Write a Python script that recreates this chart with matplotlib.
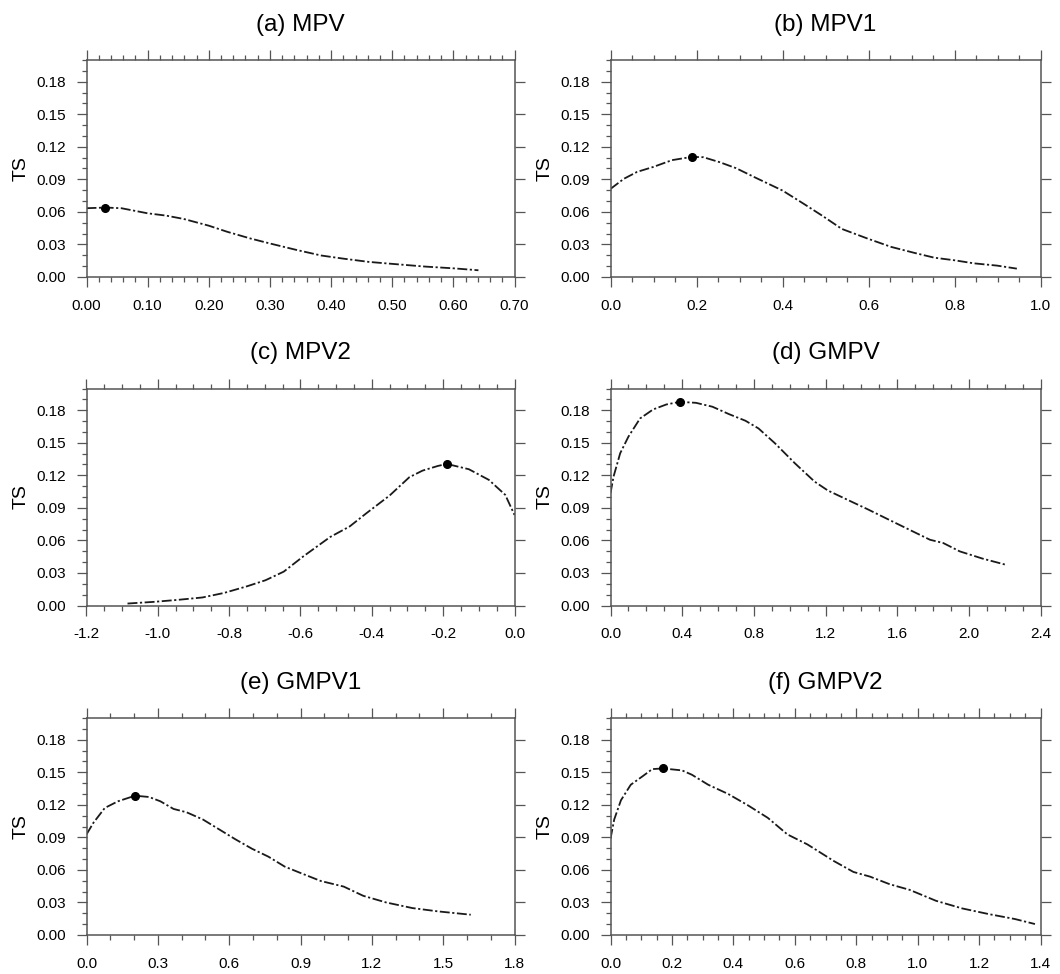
import matplotlib
matplotlib.use("Agg")
import matplotlib.pyplot as plt
from matplotlib.ticker import FixedLocator, MultipleLocator, FormatStrFormatter

plt.rcParams['font.family'] = ['Liberation Sans', 'DejaVu Sans']

titles = ['(a) MPV', '(b) MPV1', '(c) MPV2', '(d) GMPV', '(e) GMPV1', '(f) GMPV2']

mpv_x = [0.0, 0.031, 0.057, 0.1, 0.13, 0.159, 0.2, 0.23, 0.268, 0.3, 0.343, 0.384,
         0.419, 0.462, 0.5, 0.554, 0.6, 0.641]
mpv_ts = [0.0634, 0.064, 0.0634, 0.0587, 0.0566, 0.0535, 0.0473, 0.0417, 0.0355, 0.0309,
          0.025, 0.0198, 0.017, 0.0139, 0.0121, 0.0096, 0.008, 0.0062]

mpv1_x = [0.0, 0.031, 0.062, 0.1, 0.143, 0.189, 0.216, 0.254, 0.292, 0.338, 0.4, 0.446,
          0.492, 0.538, 0.6, 0.653, 0.707, 0.753, 0.8, 0.845, 0.899, 0.945]
mpv1_ts = [0.0812, 0.0905, 0.0969, 0.1015, 0.1077, 0.1107, 0.1104, 0.1058, 0.1003, 0.0914,
           0.0797, 0.0683, 0.0566, 0.0443, 0.0351, 0.0277, 0.0222, 0.0178, 0.0154, 0.0126,
           0.0105, 0.0077]

mpv2_x = [-1.085, -1.009, -0.944, -0.875, -0.814, -0.749, -0.698, -0.647, -0.592, -0.517,
          -0.462, -0.415, -0.35, -0.295, -0.258, -0.215, -0.19, -0.128, -0.072, -0.026, 0.0]
mpv2_ts = [0.0018, 0.0034, 0.0052, 0.0074, 0.0116, 0.0178, 0.0233, 0.0312, 0.0453, 0.0631,
           0.0729, 0.0851, 0.1014, 0.1182, 0.1243, 0.1286, 0.1305, 0.1256, 0.1158, 0.102, 0.0835]

gmpv_x = [0.0, 0.017, 0.054, 0.1, 0.165, 0.238, 0.312, 0.387, 0.477, 0.569, 0.661, 0.753,
          0.826, 0.918, 1.029, 1.139, 1.213, 1.323, 1.434, 1.562, 1.691, 1.783, 1.857,
          1.949, 2.077, 2.21]
gmpv_ts = [0.1035, 0.1188, 0.1403, 0.1556, 0.1724, 0.1807, 0.1853, 0.1877, 0.1868, 0.1832,
           0.1764, 0.1703, 0.1632, 0.1495, 0.1311, 0.1142, 0.106, 0.0974, 0.0888, 0.0784,
           0.068, 0.0606, 0.0576, 0.0499, 0.0432, 0.0374]

gmpv1_x = [0.0, 0.029, 0.077, 0.132, 0.204, 0.263, 0.311, 0.366, 0.421, 0.49, 0.559, 0.627,
           0.696, 0.765, 0.834, 0.903, 0.985, 1.082, 1.164, 1.26, 1.371, 1.481, 1.616]
gmpv1_ts = [0.0927, 0.1034, 0.1171, 0.1232, 0.1284, 0.1272, 0.1232, 0.1162, 0.1131, 0.1064,
            0.0972, 0.0881, 0.0795, 0.0722, 0.063, 0.0569, 0.0498, 0.0446, 0.0361, 0.03,
            0.0248, 0.0217, 0.0187]

gmpv2_x = [0.0, 0.012, 0.034, 0.066, 0.104, 0.136, 0.171, 0.233, 0.265, 0.318, 0.383, 0.447,
           0.512, 0.576, 0.641, 0.727, 0.791, 0.845, 0.909, 0.974, 1.06, 1.145, 1.231,
           1.317, 1.382]
gmpv2_ts = [0.0887, 0.1064, 0.1242, 0.1385, 0.1462, 0.1529, 0.1535, 0.1517, 0.1477, 0.1385,
            0.13, 0.1196, 0.108, 0.0927, 0.0835, 0.0682, 0.0581, 0.0538, 0.0468, 0.0416,
            0.0315, 0.0245, 0.0193, 0.0147, 0.0101]

peak_x = [0.031, 0.189, -0.19, 0.387, 0.204, 0.171]
peak_ts = [0.064, 0.1107, 0.1305, 0.1877, 0.1284, 0.1535]

series_x = [mpv_x, mpv1_x, mpv2_x, gmpv_x, gmpv1_x, gmpv2_x]
series_ts = [mpv_ts, mpv1_ts, mpv2_ts, gmpv_ts, gmpv1_ts, gmpv2_ts]

x_limits = [(0.0, 0.7), (0.0, 1.0), (-1.2, 0.0), (0.0, 2.4), (0.0, 1.8), (0.0, 1.4)]
x_major = [0.1, 0.2, 0.2, 0.4, 0.3, 0.2]
x_minor = [0.02, 0.05, 0.05, 0.1, 0.1, 0.05]
x_fmt = ['%.2f', '%.1f', '%.1f', '%.1f', '%.1f', '%.1f']
y_ticks = [0.0, 0.03, 0.06, 0.09, 0.12, 0.15, 0.18]
y_label = 'TS'

W, H = 1060, 974
fig = plt.figure(figsize=(W / 100, H / 100), dpi=100)

col_left = [86.5, 610.5]
col_width = [428, 430]
row_top = [60, 388.5, 718]
ax_h = 217

spine_col = '#555555'
for i in range(6):
    r, c = divmod(i, 2)
    rect = [col_left[c] / W, 1 - (row_top[r] + ax_h) / H, col_width[c] / W, ax_h / H]
    ax = fig.add_axes(rect)
    ax.plot(series_x[i], series_ts[i], color='#1a1a1a', lw=1.3,
            linestyle=(0, (5.5, 1.4, 1.2, 1.4)))
    ax.plot([peak_x[i]], [peak_ts[i]], 'o', color='black', markersize=5.5)
    ax.set_xlim(*x_limits[i])
    ax.set_ylim(0, 0.2)
    ax.xaxis.set_major_locator(MultipleLocator(x_major[i]))
    ax.xaxis.set_minor_locator(MultipleLocator(x_minor[i]))
    ax.xaxis.set_major_formatter(FormatStrFormatter(x_fmt[i]))
    ax.yaxis.set_major_locator(FixedLocator(y_ticks))
    ax.yaxis.set_minor_locator(MultipleLocator(0.01))
    ax.yaxis.set_major_formatter(FormatStrFormatter('%.2f'))
    for s in ax.spines.values():
        s.set_color(spine_col)
        s.set_linewidth(1.1)
    ax.tick_params(which='both', direction='out', top=True, right=True,
                   color=spine_col, width=0.9, labelsize=11, labelcolor='black')
    ax.tick_params(which='major', length=7.5)
    ax.tick_params(which='minor', length=3.8, right=False)
    ax.tick_params(axis='x', which='major', pad=8)
    ax.tick_params(axis='y', which='major', pad=7)
    ax.set_ylabel(y_label, fontsize=14)
    ax.yaxis.set_label_coords(-0.132, 0.5)
    ax.set_title(titles[i], fontsize=17.5, pad=21)

fig.savefig('out.png', dpi=100)
